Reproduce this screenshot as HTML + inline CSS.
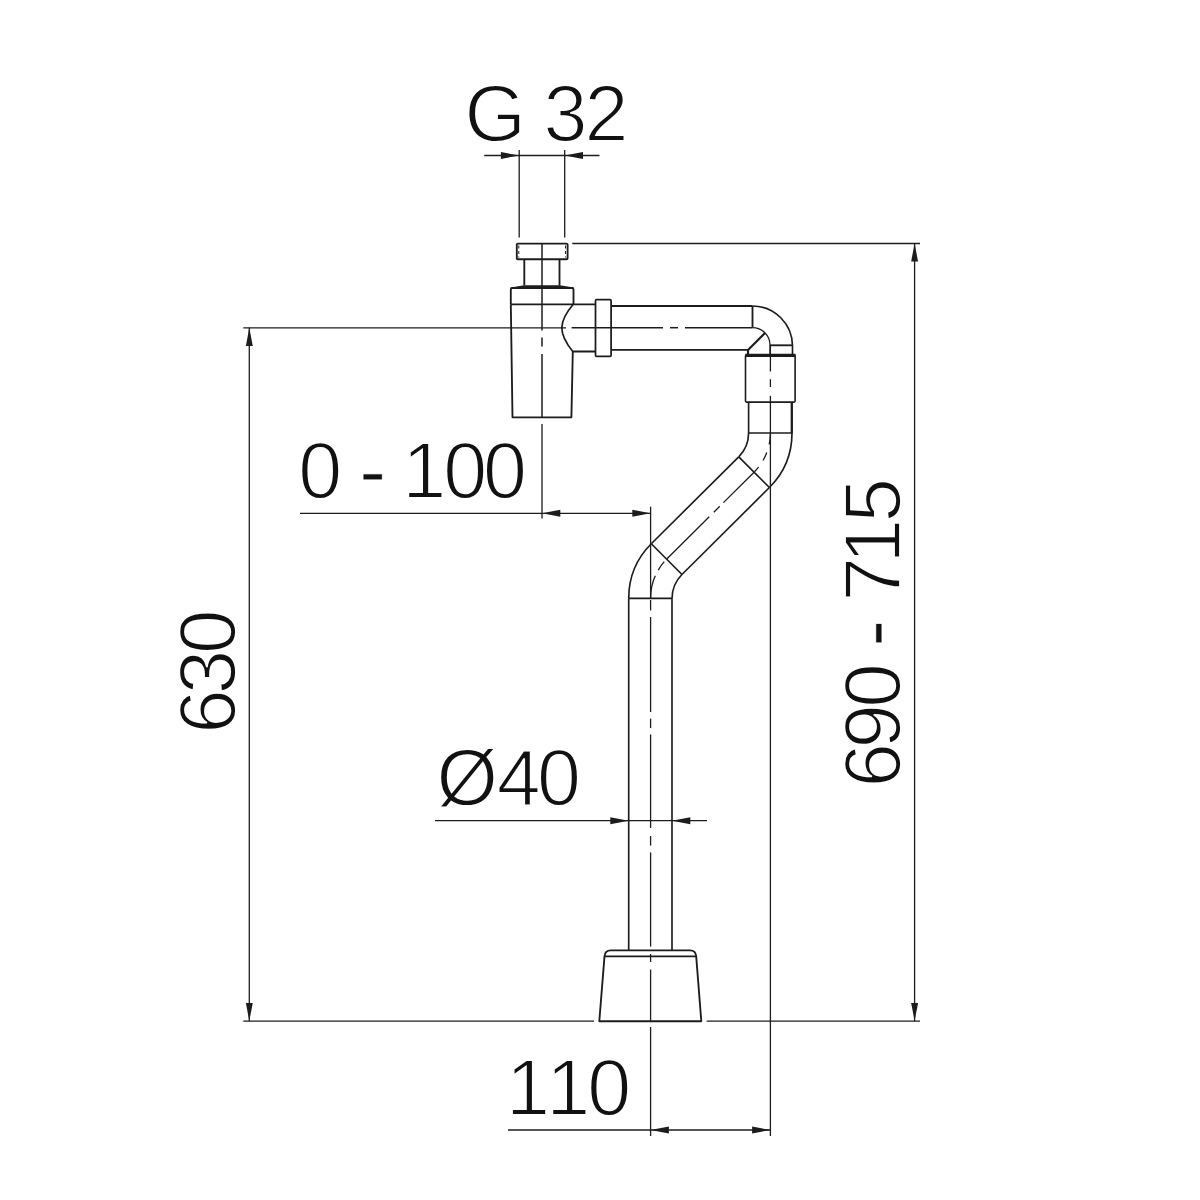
<!DOCTYPE html>
<html lang="en">
<head>
<meta charset="utf-8">
<title>Siphon dimension drawing</title>
<style>
html,body{margin:0;padding:0;background:#fff;}
body{width:1200px;height:1200px;overflow:hidden;}
svg{display:block;}
svg line, svg path, svg rect{fill:none;stroke:#1c1c1c;stroke-linecap:butt;stroke-linejoin:round;}
svg .ar{fill:#1c1c1c;stroke:none;}
svg text{font-family:"Liberation Sans",sans-serif;font-size:79.0px;fill:#111;stroke:#fff;stroke-width:1.8px;}
svg text .hy{stroke-width:0.8px;}
</style>
</head>
<body>
<svg width="1200" height="1200" viewBox="0 0 1200 1200" role="img" aria-label="Siphon dimension drawing">
<rect x="0" y="0" width="1200" height="1200" style="fill:#fff;stroke:none"/>
<g>
<line x1="484.2" y1="155.5" x2="599.5" y2="155.5" stroke-width="1.3" />
<line x1="519.2" y1="150" x2="519.2" y2="237.5" stroke-width="1.3" />
<line x1="564.7" y1="150" x2="564.7" y2="237.5" stroke-width="1.3" />
<polygon class="ar" points="519.2,155.5 500.90,158.95 500.90,152.05"/>
<polygon class="ar" points="564.7,155.5 583.00,152.05 583.00,158.95"/>
<line x1="572.3" y1="243.5" x2="920" y2="243.5" stroke-width="1.3" />
<line x1="706.7" y1="1021.2" x2="920" y2="1021.2" stroke-width="1.3" />
<line x1="914.6" y1="243.3" x2="914.6" y2="1021.2" stroke-width="1.3" />
<polygon class="ar" points="914.6,243.3 918.05,261.60 911.15,261.60"/>
<polygon class="ar" points="914.6,1021.2 911.15,1002.90 918.05,1002.90"/>
<line x1="243.3" y1="327.8" x2="566" y2="327.8" stroke-width="1.3" />
<line x1="243.3" y1="1021.2" x2="594" y2="1021.2" stroke-width="1.3" />
<line x1="249.3" y1="327.8" x2="249.3" y2="1021.2" stroke-width="1.3" />
<polygon class="ar" points="249.3,327.8 252.75,346.10 245.85,346.10"/>
<polygon class="ar" points="249.3,1021.2 245.85,1002.90 252.75,1002.90"/>
<line x1="300" y1="513.3" x2="650.5" y2="513.3" stroke-width="1.3" />
<line x1="542" y1="424" x2="542" y2="518.5" stroke-width="1.3" />
<line x1="650.6" y1="506.7" x2="650.6" y2="598.3" stroke-width="1.3" />
<polygon class="ar" points="542,513.3 560.30,509.85 560.30,516.75"/>
<polygon class="ar" points="650.6,513.3 632.30,516.75 632.30,509.85"/>
<line x1="435" y1="820.7" x2="707" y2="820.7" stroke-width="1.3" />
<polygon class="ar" points="628.6,820.7 610.30,824.15 610.30,817.25"/>
<polygon class="ar" points="672,820.7 690.30,817.25 690.30,824.15"/>
<line x1="508" y1="1130" x2="770.7" y2="1130" stroke-width="1.3" />
<line x1="650.6" y1="1027" x2="650.6" y2="1136" stroke-width="1.3" />
<line x1="770.4" y1="433" x2="770.4" y2="1136" stroke-width="1.3" />
<polygon class="ar" points="650.6,1130 668.90,1126.55 668.90,1133.45"/>
<polygon class="ar" points="770.4,1130 752.10,1133.45 752.10,1126.55"/>
<line x1="542" y1="243.3" x2="542" y2="330.5" stroke-width="1.5" />
<line x1="542" y1="337.5" x2="542" y2="346.5" stroke-width="1.5" />
<line x1="542" y1="354" x2="542" y2="417.5" stroke-width="1.5" />
<line x1="571.6" y1="327.7" x2="663" y2="327.7" stroke-width="1.5" />
<line x1="670" y1="327.7" x2="678" y2="327.7" stroke-width="1.5" />
<line x1="685" y1="327.7" x2="752.5" y2="327.7" stroke-width="1.5" />
<line x1="770.4" y1="345" x2="770.4" y2="371.5" stroke-width="1.3" />
<line x1="770.4" y1="379.2" x2="770.4" y2="387" stroke-width="1.3" />
<line x1="770.4" y1="395.8" x2="770.4" y2="433" stroke-width="1.3" />
<line x1="650.6" y1="600" x2="650.6" y2="610.4" stroke-width="1.3" />
<line x1="650.6" y1="617" x2="650.6" y2="712" stroke-width="1.3" />
<line x1="650.6" y1="718.6" x2="650.6" y2="728" stroke-width="1.3" />
<line x1="650.6" y1="734.4" x2="650.6" y2="828" stroke-width="1.3" />
<line x1="650.6" y1="836" x2="650.6" y2="845.6" stroke-width="1.3" />
<line x1="650.6" y1="852.4" x2="650.6" y2="946.6" stroke-width="1.3" />
<line x1="650.6" y1="954" x2="650.6" y2="962" stroke-width="1.3" />
<line x1="650.6" y1="969.6" x2="650.6" y2="1021" stroke-width="1.3" />
<rect x="516.8" y="243.6" width="50.8" height="15.6" rx="1" stroke-width="1.85"/>
<line x1="518.8" y1="245.5" x2="518.8" y2="257.5" stroke-width="1" stroke-dasharray="3 2.5"/>
<line x1="565.5" y1="245.5" x2="565.5" y2="257.5" stroke-width="1" stroke-dasharray="3 2.5"/>
<line x1="524.3" y1="259.2" x2="524.3" y2="285.5" stroke-width="1.85" />
<line x1="559.5" y1="259.2" x2="559.5" y2="285.5" stroke-width="1.85" />
<polygon class="ar" points="524,285.2 560,285.2 573.5,287.6 573.5,289 510.8,289 510.8,287.6"/>
<path d="M510.8,304 L510.8,289.5 Q510.8,288 512.3,288 L572,288 Q573.5,288 573.5,289.5 L573.5,304" stroke-width="1.85" />
<line x1="510.8" y1="304.3" x2="595" y2="304.3" stroke-width="1.85" />
<path d="M510.8,304.3 L512.5,417.3 L571.4,417.3 L572.8,351.5 L595,351.5" stroke-width="1.85" />
<path d="M573.3,304.3 C558.1,322 558.1,333.3 572.8,351.5" stroke-width="1.7" />
<rect x="595.5" y="299.5" width="15.6" height="56.9" rx="1.2" stroke-width="1.75"/>
<line x1="611.5" y1="306" x2="752.5" y2="306" stroke-width="1.85" />
<line x1="611.5" y1="349.8" x2="748" y2="349.8" stroke-width="1.85" />
<path d="M752.5,306 A40,40 0 0 1 792.5,346 L792.5,354" stroke-width="1.65" />
<path d="M752.5,327.6 A17.5,17.5 0 0 1 770,345.1 L770,354" stroke-width="1.3" />
<line x1="752.5" y1="306" x2="752.5" y2="327.6" stroke-width="1.85" />
<line x1="770" y1="345.3" x2="792.5" y2="345.3" stroke-width="1.85" />
<path d="M748,354 L748,350 L765,333" stroke-width="2.2" />
<rect x="745.5" y="355" width="49.6" height="47.1" rx="1" stroke-width="1.6"/>
<line x1="745.3" y1="355.3" x2="795.5" y2="355.3" stroke-width="3.2" />
<line x1="748.6" y1="402.3" x2="748.6" y2="433" stroke-width="1.65" />
<line x1="791.8" y1="402.3" x2="791.8" y2="433" stroke-width="2.3" />
<line x1="748.6" y1="433" x2="792" y2="433" stroke-width="1.65" />
<path d="M792,433 A77.1,77.1 0 0 1 769.42,487.52" stroke-width="1.65" />
<path d="M748.6,433 A33.7,33.7 0 0 1 738.73,456.83" stroke-width="1.65" />
<line x1="738.73" y1="456.83" x2="769.42" y2="487.52" stroke-width="1.65" />
<path d="M651.28,543.78 A77.1,77.1 0 0 0 628.7,598.3" stroke-width="1.65" />
<path d="M681.97,574.47 A33.7,33.7 0 0 0 672.10,598.3" stroke-width="1.65" />
<line x1="651.28" y1="543.78" x2="681.97" y2="574.47" stroke-width="1.65" />
<line x1="738.73" y1="456.83" x2="651.28" y2="543.78" stroke-width="1.65" />
<line x1="769.42" y1="487.52" x2="681.97" y2="574.47" stroke-width="1.65" />
<line x1="628.7" y1="598.3" x2="672.1" y2="598.3" stroke-width="1.65" />
<path d="M770.4,433 A55.4,55.4 0 0 1 754.07,472.17 L666.63,559.13 A55.4,55.4 0 0 0 650.6,598.3" stroke-width="1.3" stroke-dasharray="11.5 8.4 8.8 8 50 5.2 8.4 6.4 59.9 3.7 10.3 6.5 100"/>
<line x1="628.7" y1="598.3" x2="628.7" y2="950.4" stroke-width="1.65" />
<line x1="672" y1="598.3" x2="672" y2="950.4" stroke-width="1.65" />
<path d="M599.3,1021.2 L604.5,956.4 Q604.9,950.4 610.8,950.4 L690,950.4 Q695.8,950.4 696.2,956.4 L701.3,1021.2 Z" stroke-width="1.85" />
<line x1="604.5" y1="956.4" x2="696.2" y2="956.4" stroke-width="1.65" />
</g>
<g><text x="464.4 499.9 543.5 584.5" y="141">G 32</text>
<text x="298.3 333.8 359.4 395.0 402.3 443.3 483.1" y="498">0 <tspan class="hy">-</tspan> 100</text>
<text x="436.6 496.8 537.0" y="805">Ø40</text>
<text x="506.0 546.3 587.2" y="1115">110</text>
<text transform="translate(235.2,0) rotate(-90)" x="-733.8 -694.2 -654.0" y="0" style="font-size:79.9px">630</text>
<text transform="translate(900.1,0) rotate(-90)" x="-787.5 -748.6 -707.7 -671.8 -646.4 -610.4 -601.6 -563.6 -522.4" y="0" style="font-size:79.9px">690 <tspan class="hy">-</tspan> 715</text></g>
</svg>
</body>
</html>
